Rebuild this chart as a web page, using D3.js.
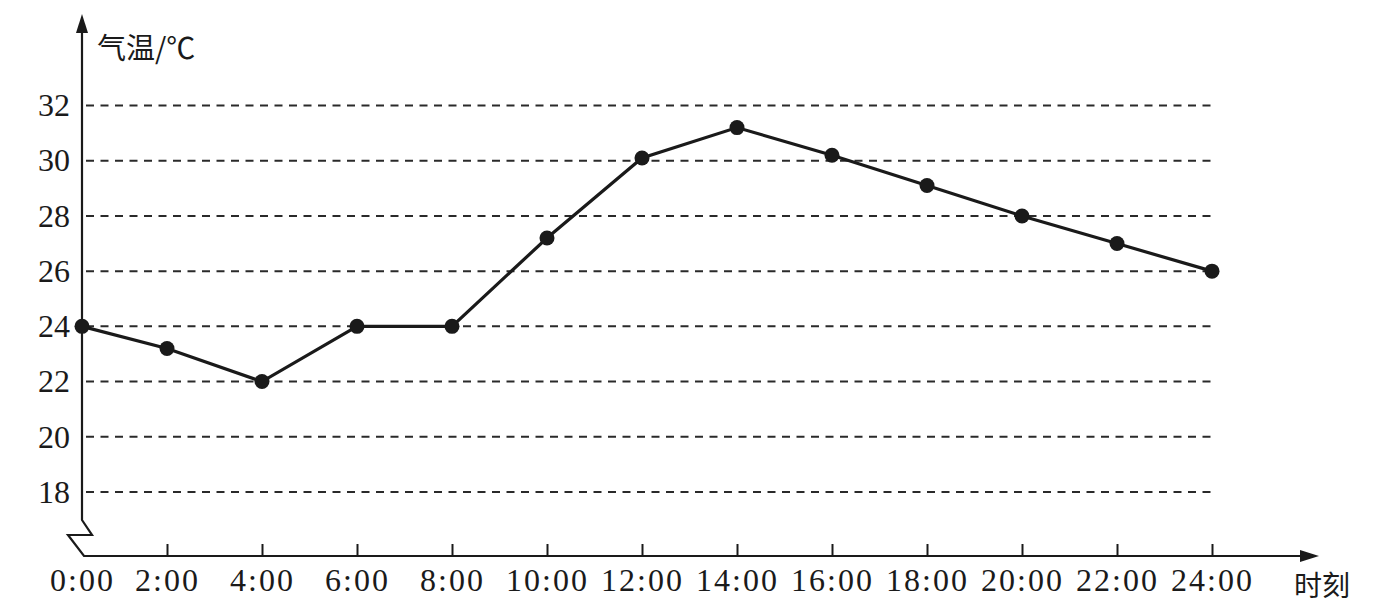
<!DOCTYPE html>
<html>
<head>
<meta charset="utf-8">
<script src="https://cdn.jsdelivr.net/npm/d3@7"></script>
<style>
  body { margin: 0; background: #fff; }
  svg { display: block; }
</style>
</head>
<body>
<div id="chart"></div>
<script>
// data
var hours = [0, 2, 4, 6, 8, 10, 12, 14, 16, 18, 20, 22, 24];
var hourLabels = ["0:00", "2:00", "4:00", "6:00", "8:00", "10:00", "12:00", "14:00", "16:00", "18:00", "20:00", "22:00", "24:00"];
var temps = [24, 23.2, 22, 24, 24, 27.2, 30.1, 31.2, 30.2, 29.1, 28, 27, 26];
var yTicks = [18, 20, 22, 24, 26, 28, 30, 32];

var width = 1376,
    height = 606;

var ink = "#1a1a1a";

// first step is drawn a bit shorter than the rest, as in the original
var x = d3.scaleLinear()
    .domain([0, 2, 24])
    .range([82, 167, 1212]);

var y = d3.scaleLinear()
    .domain([18, 32])
    .range([492, 105.5]);

var axisX = 82,
    axisY = 556;

var svg = d3.select('#chart').append('svg')
    .attr('width', width)
    .attr('height', height);

// dashed grid lines
svg.append('g').selectAll('line')
    .data(yTicks).enter()
    .append('line')
    .attr('x1', axisX + 4)
    .attr('x2', 1212)
    .attr('y1', function (d) { return y(d); })
    .attr('y2', function (d) { return y(d); })
    .attr('stroke', '#2a2a2a')
    .attr('stroke-width', 2)
    .attr('stroke-dasharray', '8,6.5');

// y axis labels
var yAxis = d3.axisLeft(y)
    .tickValues(yTicks)
    .tickSize(0)
    .tickPadding(12);

var gy = svg.append('g')
    .attr('transform', 'translate(' + axisX + ',0)')
    .call(yAxis);
gy.select('.domain').remove();
gy.selectAll('text')
    .attr('fill', ink)
    .style('font-family', '"Liberation Serif", "DejaVu Serif", serif')
    .style('font-size', '32px');

// x axis ticks + labels
var xAxis = d3.axisBottom(x)
    .tickValues(hours)
    .tickFormat(function (d, i) { return hourLabels[i]; })
    .tickSizeInner(-12)
    .tickSizeOuter(0)
    .tickPadding(12);

var gx = svg.append('g')
    .attr('transform', 'translate(0,' + axisY + ')')
    .call(xAxis);
gx.select('.domain').remove();
gx.selectAll('line')
    .attr('stroke', ink)
    .attr('stroke-width', 2)
    .style('display', function (d) { return d === 0 ? 'none' : null; });
gx.selectAll('text')
    .attr('fill', ink)
    .style('font-family', '"Liberation Serif", "DejaVu Serif", serif')
    .style('font-size', '32px')
    .style('letter-spacing', '2px');

// axes with break mark and arrows
svg.append('path')
    .attr('d', 'M' + axisX + ',30 L' + axisX + ',520 L92,535 L68,535 L' + (axisX + 2) + ',' + axisY + ' L1304,' + axisY)
    .attr('fill', 'none')
    .attr('stroke', ink)
    .attr('stroke-width', 2.2)
    .attr('stroke-linejoin', 'miter');

svg.append('path')
    .attr('d', 'M' + axisX + ',14 L' + (axisX - 6) + ',33 L' + (axisX + 6) + ',33 Z')
    .attr('fill', ink);

svg.append('path')
    .attr('d', 'M1319,' + axisY + ' L1300,' + (axisY - 6) + ' L1300,' + (axisY + 6) + ' Z')
    .attr('fill', ink);

// axis titles
svg.append('text')
    .attr('x', 97)
    .attr('y', 59)
    .attr('fill', ink)
    .style('font-family', '"Noto Sans CJK SC", sans-serif')
    .style('font-size', '29px')
    .text('气温/℃');

svg.append('text')
    .attr('x', 1294)
    .attr('y', 596)
    .attr('fill', ink)
    .style('font-family', '"Noto Sans CJK SC", sans-serif')
    .style('font-size', '28px')
    .text('时刻');

// temperature line
var points = hours.map(function (h, i) { return [h, temps[i]]; });

var line = d3.line()
    .x(function (d) { return x(d[0]); })
    .y(function (d) { return y(d[1]); });

svg.append('path')
    .datum(points)
    .attr('d', line)
    .attr('fill', 'none')
    .attr('stroke', ink)
    .attr('stroke-width', 3.2);

svg.append('g').selectAll('circle')
    .data(points).enter()
    .append('circle')
    .attr('cx', function (d) { return x(d[0]); })
    .attr('cy', function (d) { return y(d[1]); })
    .attr('r', 7.5)
    .attr('fill', ink);
</script>
</body>
</html>
